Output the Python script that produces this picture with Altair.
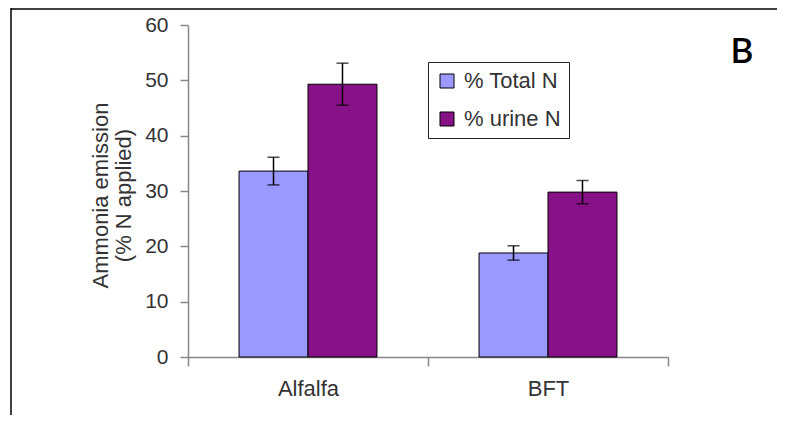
import altair as alt
import pandas as pd

crops = ["Alfalfa", "BFT"]
series = ["% Total N", "% urine N"]
total_vals = [33.6, 18.8]
total_err = [2.5, 1.3]
urine_vals = [49.3, 29.8]
urine_err = [3.8, 2.1]
colors = ["#9999FF", "#871287"]

rows = []
for i, c in enumerate(crops):
    rows.append({"crop": c, "series": series[0], "value": total_vals[i], "err": total_err[i]})
    rows.append({"crop": c, "series": series[1], "value": urine_vals[i], "err": urine_err[i]})
df = pd.DataFrame(rows)
df["lower"] = df["value"] - df["err"]
df["upper"] = df["value"] + df["err"]

W, H = 480, 332
FONT = "Liberation Sans"

x_enc = alt.X(
    "crop:N",
    sort=crops,
    scale=alt.Scale(domain=crops, paddingInner=0, paddingOuter=0),
    axis=alt.Axis(
        title=None, labelAngle=0, tickBand="extent", tickSize=9, labelPadding=12,
        labelFontSize=22, labelFont=FONT, labelColor="#333333",
        domainColor="#888888", tickColor="#888888", domainWidth=1.5, tickWidth=1.5,
    ),
)
xo_enc = alt.XOffset(
    "series:N", sort=series,
    scale=alt.Scale(domain=series, paddingInner=0, paddingOuter=0.74),
)
y_scale = alt.Scale(domain=[0, 60], nice=False)

base = alt.Chart(df)

bars = base.mark_bar(stroke="black", strokeWidth=1).encode(
    x=x_enc,
    xOffset=xo_enc,
    y=alt.Y(
        "value:Q",
        scale=y_scale,
        axis=alt.Axis(
            values=[0, 10, 20, 30, 40, 50, 60], grid=False, tickSize=8, labelPadding=12,
            labelFontSize=21, labelFont=FONT, labelColor="#333333",
            domainColor="#888888", tickColor="#888888", domainWidth=1.5, tickWidth=1.5,
            title=["Ammonia emission", "(% N applied)"], titleFontSize=22, titleFont=FONT,
            titleFontWeight="normal", titleColor="#333333", titleAngle=-90,
            titleX=-88, titleY=170, titleAlign="center", titleBaseline="middle",
            titleLineHeight=23,
        ),
    ),
    color=alt.Color(
        "series:N",
        scale=alt.Scale(domain=series, range=colors),
        legend=alt.Legend(
            title=None, orient="none", legendX=240, legendY=37,
            fillColor="white", strokeColor="#222222",
            padding=8, symbolType="square", symbolSize=196, symbolStrokeColor="black",
            symbolStrokeWidth=1, symbolOpacity=1, labelFontSize=22, labelFont=FONT,
            labelColor="#333333", labelOffset=6, rowPadding=16,
        ),
    ),
)

err_rule = base.mark_rule(color="black", strokeWidth=1.5).encode(
    x=x_enc, xOffset=xo_enc, y=alt.Y("lower:Q", scale=y_scale), y2="upper:Q"
)
cap_lo = base.mark_tick(color="black", size=12, thickness=1.5).encode(
    x=x_enc, xOffset=xo_enc, y=alt.Y("lower:Q", scale=y_scale)
)
cap_hi = base.mark_tick(color="black", size=12, thickness=1.5).encode(
    x=x_enc, xOffset=xo_enc, y=alt.Y("upper:Q", scale=y_scale)
)

frame_df = pd.DataFrame({"k": [0]})
top_line = alt.Chart(frame_df).mark_rule(color="black", strokeWidth=1.5).encode(
    x=alt.value(-177), x2=alt.value(597), y=alt.value(-16)
)
left_line = alt.Chart(frame_df).mark_rule(color="black", strokeWidth=1.5).encode(
    x=alt.value(-177), y=alt.value(-17), y2=alt.value(398)
)
label_b = alt.Chart(pd.DataFrame({"t": ["B"]})).mark_text(
    font="Lato", fontSize=35, fontWeight=600, color="black", align="center", baseline="alphabetic"
).encode(x=alt.value(554), y=alt.value(38), text="t:N")

chart = (
    alt.layer(bars, err_rule, cap_lo, cap_hi, top_line, left_line, label_b)
    .properties(
        width=W, height=H,
        autosize=alt.AutoSizeParams(type="none"),
        padding={"left": 180, "top": 17, "right": 109, "bottom": 58},
        background="white",
    )
    .configure_view(stroke=None)
)

chart.save("out.html", embed_options={"renderer": "svg", "actions": False})
